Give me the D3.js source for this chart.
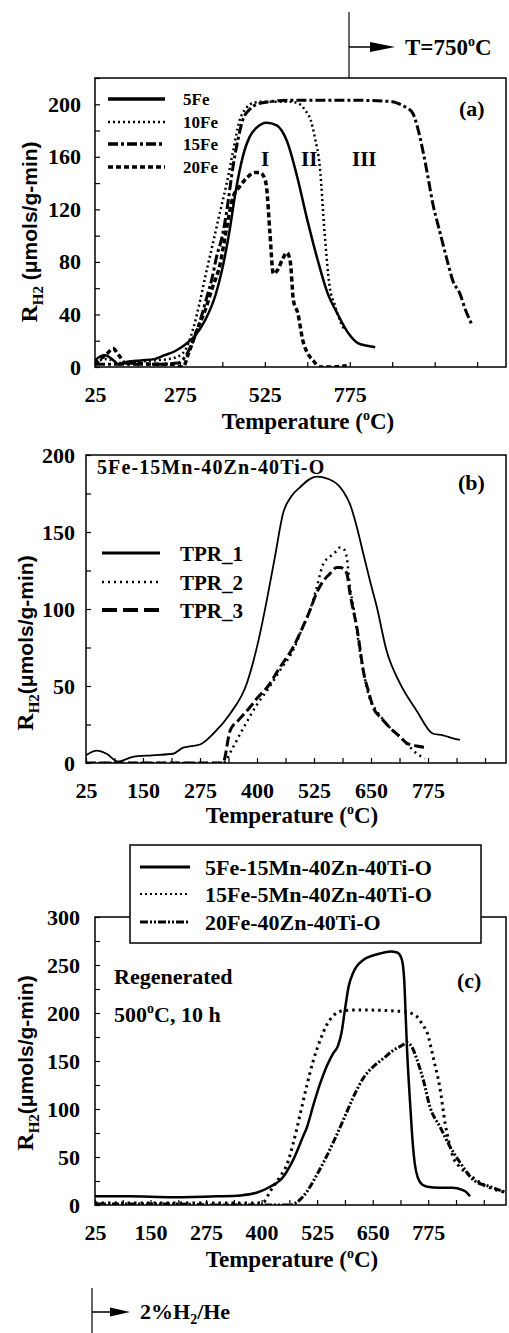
<!DOCTYPE html>
<html><head><meta charset="utf-8">
<script src="https://cdn.jsdelivr.net/npm/d3@7"></script>
<style>
body{margin:0;background:#fff;}
svg text{font-family:"Liberation Serif","Times New Roman",serif;font-weight:bold;fill:#000;}
</style></head><body><svg id="c" width="509" height="1333"></svg>
<script>
// ---------- Panel (a) data ----------
const aSeriesNames = ["5Fe","10Fe","15Fe","20Fe"];
const a5FeT = [25,40,55,75,95,120,160,200,230,260,290,320,350,380,400,420,440,460,480,500,530,560,590,620,650,680,710,740,770,800,830,850];
const a5FeV = [5,8,9,6,2,4,5,6,9,12,17,24,36,55,75,102,135,160,175,182,186,184,172,145,112,82,56,40,26,18,16,15];
const a10FeT = [25,60,100,150,200,240,270,295,315,334,355,372,393,413,432,451,470,490,520,560,600,628,645,660,672,687,701,716,730,745,760];
const a10FeV = [4,6,3,4,5,6,8,15,30,50,75,94,118,140,165,188,197,201,202,202,202,200,195,188,175,152,102,61,48,36,28];
const a15FeT = [25,100,200,270,285,300,320,340,354,370,383,400,413,431,445,460,480,501,540,600,700,800,900,931,945,961,975,990,1005,1019,1035,1049,1065,1078,1099,1115,1133];
const a15FeV = [2,2,2,3,6,12,24,40,53,68,84,100,119,152,172,188,196,200,202,203,203,203,202,199,197,193,182,165,145,125,108,94,78,66,56,44,33];
const a20FeT = [25,40,60,78,95,115,150,200,250,284,300,325,349,370,393,412,431,450,472,495,510,522,530,540,550,563,577,590,600,609,622,637,652,667,687,720,766];
const a20FeV = [2,6,10,14,9,3,3,2,2,0,10,28,43,60,78,105,129,137,144,148,148,145,137,102,71,74,82,87,80,51,41,20,10,5,0,0,1];
const aXLabels = [25,275,525,775];
const aYLabels = [0,40,80,120,160,200];

// ---------- Panel (b) data ----------
const bSeriesNames = ["TPR_1","TPR_2","TPR_3"];
const bTPR1T = [25,49,70,95,128,170,216,238,275,304,341,378,402,421,440,457,475,494,531,567,590,604,620,633,648,663,684,713,750,786,808,830,845];
const bTPR1V = [5,8,6,1,4,5,6,10,12,19,32,52,78,105,135,162,173,179,186,183,176,168,152,136,118,101,73,52,34,19,18,16,15];
const bTPR2T = [25,100,200,300,325,347,365,384,400,422,450,479,500,516,530,545,560,572,582,590,597,604,612,619,626,633,648,662,677,695,714,730,751,768];
const bTPR2V = [0,0,0,0,0,10,20,30,38,47,60,73,88,99,113,129,134,137,140,139,133,114,100,86,72,60,41,34,28,22,17,12,6,3];
const bTPR3T = [25,100,200,300,325,341,360,384,400,422,450,479,500,516,530,545,560,575,582,590,597,604,612,619,626,633,645,655,673,691,710,728,750,775];
const bTPR3V = [0,0,0,0,0,21,28,36,42,49,62,75,88,99,110,118,123,127,127,126,123,110,98,88,74,60,46,36,29,23,18,13,11,10];
const bXLabels = [25,150,275,400,525,650,775];
const bYLabels = [0,50,100,150,200];

// ---------- Panel (c) data ----------
const cSeriesNames = ["5Fe-15Mn-40Zn-40Ti-O","15Fe-5Mn-40Zn-40Ti-O","20Fe-40Zn-40Ti-O"];
const c5FeT = [25,100,200,300,352,390,419,448,471,493,502,517,532,547,561,572,580,588,596,606,628,667,690,705,713,718,721,724,727,731,735,740,745,752,762,773,800,830,850,862,869];
const c5FeV = [9,9,8,9,10,13,19,29,47,71,81,105,127,145,158,166,180,205,228,242,255,262,264,263,259,250,234,200,165,130,100,65,42,28,21,19,18,18,16,13,9];
const c15FeT = [25,100,200,300,380,404,419,442,457,471,487,502,516,532,547,561,580,600,650,700,728,740,750,762,773,786,802,813,822,831,845,863,880,899,920,950];
const c15FeV = [2,2,2,2,2,3,14,30,42,64,95,125,150,172,188,197,202,203,203,202,201,199,196,188,179,154,120,85,65,50,40,33,27,21,17,13];
const c20FeT = [25,100,200,300,400,464,480,502,520,540,561,590,606,630,651,675,696,715,728,740,750,764,779,802,825,847,877,915,950];
const c20FeV = [1,1,1,0,0,0,3,14,28,45,65,95,112,133,144,153,161,166,169,163,151,130,102,81,60,44,26,19,13];
const cXLabels = [25,150,275,400,525,650,775];
const cYLabels = [0,50,100,150,200,250,300];

const svg = d3.select("#c");
const SERIF = '"Liberation Serif","Times New Roman",serif';
const SANS = '"Liberation Sans",Arial,sans-serif';

function range(a,b,s){const r=[];for(let v=a;v<=b+1e-6;v+=s)r.push(v);return r;}

function panel(o){
  const g = svg.append("g");
  const x = d3.scaleLinear().domain(o.xd).range([o.l,o.r]);
  const y = d3.scaleLinear().domain(o.yd).range([o.b,o.t]);
  const cid = "clip"+o.id;
  svg.append("defs").append("clipPath").attr("id",cid).append("rect")
    .attr("x",o.l).attr("y",o.t-2).attr("width",o.r-o.l).attr("height",o.b-o.t+2);
  g.append("g").attr("transform",`translate(0,${o.b})`)
    .call(d3.axisBottom(x).tickValues(o.xTicks).tickSize(-5).tickFormat(""))
    .call(a=>{a.select(".domain").remove();a.selectAll("line").attr("stroke-width",1.2);});
  g.append("g").attr("transform",`translate(${o.l},0)`)
    .call(d3.axisLeft(y).tickValues(o.yTicks).tickSize(-5).tickFormat(""))
    .call(a=>{a.select(".domain").remove();a.selectAll("line").attr("stroke-width",1.2);});
  g.append("g").attr("transform",`translate(0,${o.b})`)
    .call(d3.axisBottom(x).tickValues(o.xLabels).tickSize(0).tickPadding(19).tickFormat(d3.format("d")))
    .call(a=>{a.select(".domain").remove();a.selectAll("text").style("font-size","22px").style("font-family",SERIF);});
  g.append("g").attr("transform",`translate(${o.l},0)`)
    .call(d3.axisLeft(y).tickValues(o.yLabels).tickSize(0).tickPadding(o.yPad).tickFormat(d3.format("d")))
    .call(a=>{a.select(".domain").remove();a.selectAll("text").style("font-size","22px").style("font-family",SERIF);});
  g.append("rect").attr("x",o.l).attr("y",o.t).attr("width",o.r-o.l).attr("height",o.b-o.t)
    .attr("fill","none").attr("stroke","#000").attr("stroke-width",1.5);
  const line = d3.line().x(d=>x(d[0])).y(d=>y(d[1])).curve(d3.curveMonotoneX);
  const lg = g.append("g").attr("clip-path",`url(#${cid})`);
  o.series.forEach(s=>{
    lg.append("path").datum(d3.zip(s.t,s.v)).attr("d",line)
      .attr("fill","none").attr("stroke","#000").attr("stroke-width",s.w)
      .attr("stroke-dasharray",s.dash||null).attr("stroke-linejoin","round");
  });
  const xt = g.append("text").attr("x",o.xtX).attr("y",o.xtY).attr("text-anchor","middle").style("font-size","23px");
  xt.append("tspan").text("Temperature (");
  xt.append("tspan").attr("dy",-9).style("font-size","14px").text("o");
  xt.append("tspan").attr("dy",9).text("C)");
  const yt = g.append("text").attr("transform",`translate(${o.ytX},${o.ytY}) rotate(-90)`).attr("text-anchor","middle");
  yt.append("tspan").style("font-size","24px").text("R");
  yt.append("tspan").attr("dy",6).style("font-size","15px").text("H2");
  yt.append("tspan").attr("dy",-6).style("font-size","21px").style("font-family",SANS).text(o.ySpace?" (\u03BCmols/g-min)":"(\u03BCmols/g-min)");
  return {g,x,y};
}

function legendLine(g,x1,x2,yy,w,dash){
  g.append("line").attr("x1",x1).attr("x2",x2).attr("y1",yy).attr("y2",yy)
    .attr("stroke","#000").attr("stroke-width",w).attr("stroke-dasharray",dash||null);
}
function txt(g,x,y,s,size,extra){
  const t=g.append("text").attr("x",x).attr("y",y).style("font-size",size+"px").text(s);
  if(extra) extra(t);
  return t;
}

// ---------- Panel (a) ----------
const aStyles = [{w:2.5},{w:2.5,dash:"2,3"},{w:3,dash:"10,3,3,3"},{w:3.5,dash:"5,3"}];
const A = panel({id:"a",l:95,r:506,t:78,b:367,xd:[25,1235],yd:[0,220],
  xTicks:range(25,1150,125),yTicks:range(0,220,20),xLabels:aXLabels,yLabels:aYLabels,yPad:14,
  xtX:308,xtY:429,ytX:37,ytY:232,ySpace:true,
  series:[{t:a5FeT,v:a5FeV,...aStyles[0]},{t:a10FeT,v:a10FeV,...aStyles[1]},{t:a15FeT,v:a15FeV,...aStyles[2]},{t:a20FeT,v:a20FeV,...aStyles[3]}]});
const aLegY=[99,122,144,167];
const aLegStyles=[{w:3.5},{w:2.5,dash:"2,3"},{w:3.5,dash:"10,3,3,3"},{w:3.5,dash:"5,3"}];
aSeriesNames.forEach((n,i)=>{
  legendLine(A.g,108,165,aLegY[i],aLegStyles[i].w,aLegStyles[i].dash);
  txt(A.g,183,aLegY[i]+6,n,17);
});
txt(A.g,459,116,"(a)",22);
txt(A.g,261,166,"I",21);
txt(A.g,301,166,"II",21);
txt(A.g,352,166,"III",21);
svg.append("line").attr("x1",349).attr("x2",349).attr("y1",12).attr("y2",78).attr("stroke","#000").attr("stroke-width",1.2);
svg.append("line").attr("x1",349).attr("x2",372).attr("y1",47).attr("y2",47).attr("stroke","#000").attr("stroke-width",1.5);
svg.append("polygon").attr("points","370,42 395,47 370,52").attr("fill","#000");
{
  const t = svg.append("text").attr("x",405).attr("y",55).style("font-size","23px");
  t.append("tspan").text("T=750");
  t.append("tspan").attr("dy",-9).style("font-size","14px").text("o");
  t.append("tspan").attr("dy",9).text("C");
}

// ---------- Panel (b) ----------
const bStyles=[{w:1.8},{w:2.5,dash:"2,4"},{w:3,dash:"10,4"}];
const B = panel({id:"b",l:86,r:506,t:455,b:763,xd:[25,946],yd:[0,200],
  xTicks:range(25,946,62.5),yTicks:range(0,200,25),xLabels:bXLabels,yLabels:bYLabels,yPad:11,
  xtX:292,xtY:823,ytX:33,ytY:643,ySpace:false,
  series:[{t:bTPR1T,v:bTPR1V,...bStyles[0]},{t:bTPR2T,v:bTPR2V,...bStyles[1]},{t:bTPR3T,v:bTPR3V,...bStyles[2]}]});
const bLegY=[553,582,610];
const bLegStyles=[{w:3},{w:2.5,dash:"2,4"},{w:4,dash:"15,6"}];
bSeriesNames.forEach((n,i)=>{
  legendLine(B.g,102,160,bLegY[i],bLegStyles[i].w,bLegStyles[i].dash);
  txt(B.g,180,bLegY[i]+8,n,21);
});
txt(B.g,97,474,"5Fe-15Mn-40Zn-40Ti-O",20,t=>t.style("letter-spacing","1.1px"));
txt(B.g,458,490,"(b)",22);

// ---------- Panel (c) ----------
const cStyles=[{w:2.5},{w:3,dash:"2.5,4"},{w:3,dash:"7,2,2,2,2,2"}];
const C = panel({id:"c",l:95,r:506,t:917,b:1205,xd:[25,950],yd:[0,300],
  xTicks:range(25,950,62.5),yTicks:range(0,300,25),xLabels:cXLabels,yLabels:cYLabels,yPad:15,
  xtX:292,xtY:1267,ytX:33,ytY:1063,ySpace:false,
  series:[{t:c5FeT,v:c5FeV,...cStyles[0]},{t:c15FeT,v:c15FeV,...cStyles[1]},{t:c20FeT,v:c20FeV,...cStyles[2]}]});
C.g.append("rect").attr("x",130).attr("y",845).attr("width",351).attr("height",98)
  .attr("fill","#fff").attr("stroke","#000").attr("stroke-width",1.5);
const cLegY=[867,894,922];
const cLegStyles=[{w:3},{w:2,dash:"2,3"},{w:3,dash:"8,2,2,2,2,2"}];
cSeriesNames.forEach((n,i)=>{
  legendLine(C.g,140,190,cLegY[i],cLegStyles[i].w,cLegStyles[i].dash);
  txt(C.g,205,cLegY[i]+8,n,22);
});
txt(C.g,114,984,"Regenerated",22);
{
  const t = C.g.append("text").attr("x",114).attr("y",1022).style("font-size","22px");
  t.append("tspan").text("500");
  t.append("tspan").attr("dy",-9).style("font-size","14px").text("o");
  t.append("tspan").attr("dy",9).text("C, 10 h");
}
txt(C.g,457,988,"(c)",22);
svg.append("line").attr("x1",92).attr("x2",92).attr("y1",1288).attr("y2",1333).attr("stroke","#000").attr("stroke-width",1.2);
svg.append("line").attr("x1",92).attr("x2",113).attr("y1",1312).attr("y2",1312).attr("stroke","#000").attr("stroke-width",1.5);
svg.append("polygon").attr("points","110,1307.5 130,1312 110,1316.5").attr("fill","#000");
{
  const t = svg.append("text").attr("x",140).attr("y",1319).style("font-size","22px");
  t.append("tspan").text("2%H");
  t.append("tspan").attr("dy",5).style("font-size","14px").text("2");
  t.append("tspan").attr("dy",-5).text("/He");
}
</script></body></html>
